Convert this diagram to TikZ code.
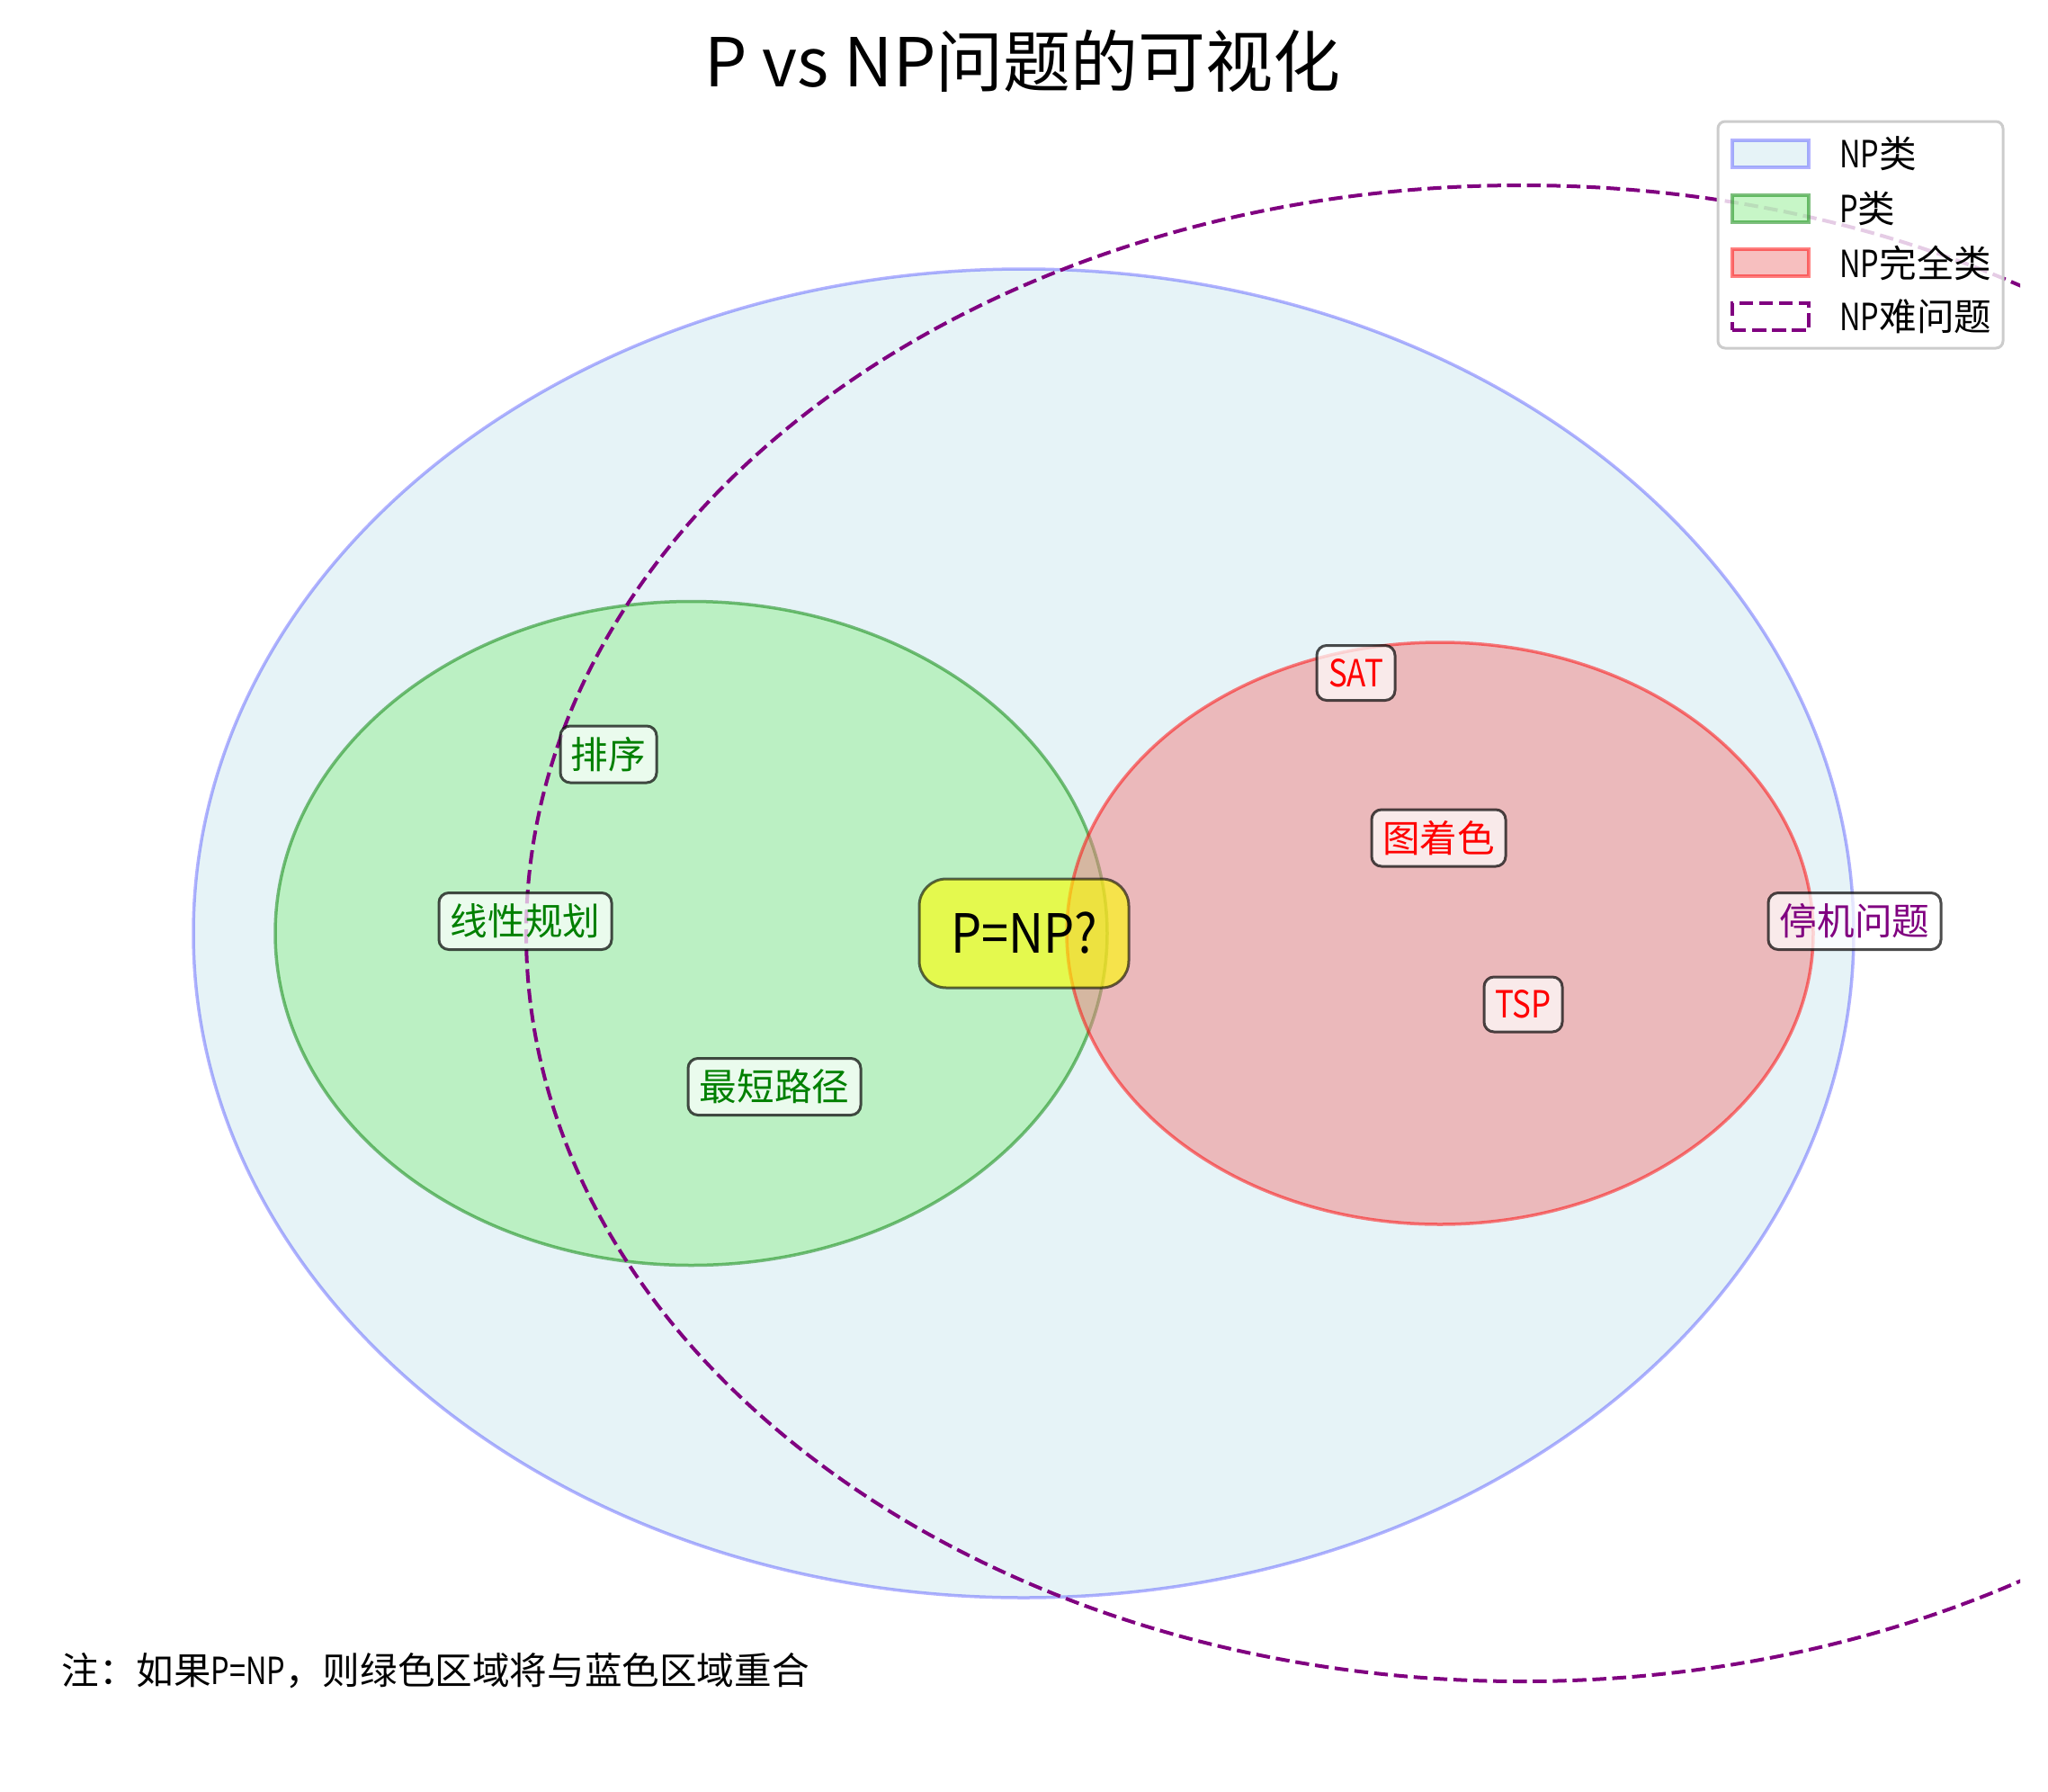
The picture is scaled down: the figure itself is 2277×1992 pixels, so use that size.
\documentclass[tikz,border=0pt]{standalone}
\usepackage{graphicx}
\usepackage{fontspec}
\setmainfont{Noto Sans CJK SC}
\newcommand{\hwlat}[2][0.78]{\scalebox{#1}[1]{#2}}
\definecolor{mlightblue}{RGB}{173,216,230}
\definecolor{mlightgreen}{RGB}{144,238,144}
\definecolor{mlightcoral}{RGB}{240,128,128}
\definecolor{mgreen}{RGB}{0,128,0}
\definecolor{mred}{RGB}{255,0,0}
\definecolor{mblue}{RGB}{0,0,255}
\definecolor{mpurple}{RGB}{128,0,128}
\definecolor{myellow}{RGB}{255,255,0}
\definecolor{legframe}{RGB}{204,204,204}
\begin{document}
\begin{tikzpicture}[x=0.5pt,y=-0.5pt,
  npset/.style={fill=mlightblue, draw=mblue, opacity=0.3, line width=1.75pt},
  pset/.style={fill=mlightgreen, draw=mgreen, opacity=0.5, line width=1.75pt},
  npcset/.style={fill=mlightcoral, draw=mred, opacity=0.5, line width=1.75pt},
  nphset/.style={draw=mpurple, line width=2pt, dash pattern=on 7.7pt off 3.35pt},
  lab/.style={draw=black, draw opacity=0.7, fill=white, fill opacity=0.7, text opacity=1,
    line width=1.5pt, rounded corners=5.5pt, inner sep=0pt, minimum height=31.5pt,
    font=\fontsize{20.8pt}{24pt}\selectfont},
  qbox/.style={draw=black, draw opacity=0.6, fill=myellow, fill opacity=0.6, text opacity=1,
    line width=1.5pt, rounded corners=15pt, inner sep=0pt, minimum width=116.5pt, minimum height=60.5pt,
    font=\fontsize{30pt}{34pt}\selectfont},
  legtext/.style={anchor=west, inner sep=0pt, font=\fontsize{20.8pt}{24pt}\selectfont},
  legpatch/.style={minimum width=42.5pt, minimum height=15pt, inner sep=0pt, line width=2pt},
]
\useasboundingbox (0,0) rectangle (2277,1992);

% sets
\path[npset] (1138,1037.5) ellipse [x radius=923, y radius=738.5];
\path[pset] (768.5,1037.5) ellipse [x radius=462.5, y radius=369];
\path[npcset] (1601,1037.5) ellipse [x radius=415, y radius=323.5];
\begin{scope}
  \clip (0,114) rectangle (2246,1992);
  \draw[nphset] (1692,1037.5) ellipse [x radius=1107, y radius=831.5];
\end{scope}

% problem labels
\node[lab, text=mgreen, minimum width=53.5pt] (sort) at (676.5,838.5) {排序};
\node[lab, text=mgreen, minimum width=96pt] (lp) at (584,1024) {线性规划};
\node[lab, text=mgreen, minimum width=96pt] (sp) at (861,1208) {最短路径};
\node[lab, text=mred, minimum width=43.5pt, minimum height=30.5pt] (sat) at (1507.5,748) {\hwlat[0.84]{SAT}};
\node[lab, text=mred, minimum width=74.5pt] (gc) at (1599.5,931.5) {图着色};
\node[lab, text=mred, minimum width=43.5pt, minimum height=30.5pt] (tsp) at (1693.5,1116.5) {\hwlat[0.84]{TSP}};
\node[lab, text=mpurple, minimum width=96pt] (halt) at (2062,1024) {停机问题};
\node[qbox] (pnp) at (1138.5,1037.5) {\hwlat[0.9]{P=NP?}};

% title and note
\node[font=\fontsize{37.5pt}{42pt}\selectfont, inner sep=0pt] (title) at (1137,68) {P vs NP问题的可视化};
\node[anchor=west, inner sep=0pt, font=\fontsize{20.8pt}{24pt}\selectfont] (note) at (68,1857) {注：如果\hwlat{P=NP}，则绿色区域将与蓝色区域重合};

% legend
\node[draw=legframe, fill=white, fill opacity=0.8, line width=1.5pt, rounded corners=4pt,
  minimum width=158.5pt, minimum height=126pt, inner sep=0pt] (legend) at (2068.5,261) {};
\node[legpatch, fill=mlightblue, draw=mblue, opacity=0.3] (lp1) at (1968.5,171) {};
\node[legtext] (lt1) at (2045,171) {\hwlat{NP}类};
\node[legpatch, fill=mlightgreen, draw=mgreen, opacity=0.5] (lp2) at (1968.5,231.5) {};
\node[legtext] (lt2) at (2045,231.5) {\hwlat{P}类};
\node[legpatch, fill=mlightcoral, draw=mred, opacity=0.5] (lp3) at (1968.5,292) {};
\node[legtext] (lt3) at (2045,292) {\hwlat{NP}完全类};
\node[legpatch, draw=mpurple, dash pattern=on 7.7pt off 3.35pt] (lp4) at (1968.5,352) {};
\node[legtext] (lt4) at (2045,352) {\hwlat{NP}难问题};
\end{tikzpicture}
\end{document}
